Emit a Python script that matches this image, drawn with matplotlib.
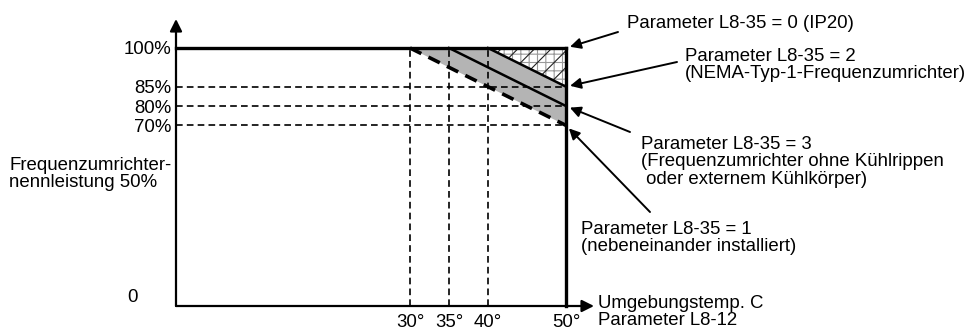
import numpy as np
import matplotlib
matplotlib.use("Agg")
import matplotlib.pyplot as plt

plt.rcParams['font.family'] = ['Liberation Sans', 'DejaVu Sans']
plt.rcParams['hatch.linewidth'] = 0.8

W, H = 971, 329
FS = 13.4

# Ambient temperature ticks (°C) and rated-output ticks (%)
temp_ticks = [30, 35, 40, 50]
temp_labels = ['30°', '35°', '40°', '50°']
pct_ticks = [70, 80, 85, 100]
pct_labels = ['70%', '80%', '85%', '100%']

# Derating curves: temperature (°C) -> rated output (%)
ip20_t, ip20_p = [0, 50], [100, 100]          # L8-35 = 0
nema_t, nema_p = [40, 50], [100, 85]          # L8-35 = 2
finless_t, finless_p = [35, 50], [100, 80]    # L8-35 = 3
side_t, side_p = [30, 50], [100, 70]          # L8-35 = 1


def px(x, y):
    """Figure pixel (from top-left) to figure fraction."""
    return (x / W, 1 - y / H)


fig = plt.figure(figsize=(W / 100, H / 100), dpi=100)
ax = fig.add_axes([176 / W, (H - 306) / H, 390 / W, 258 / H])

# slightly stretched percent axis in the upper range
k_in = [0, 70, 80, 85, 100, 300]
k_out = [0, 70, 77.5, 85, 100, 300]
ax.set_yscale('function',
              functions=(lambda v: np.interp(v, k_in, k_out),
                         lambda v: np.interp(v, k_out, k_in)))
ax.set_xlim(0, 50)
ax.set_ylim(0, 100)
for s in ax.spines.values():
    s.set_visible(False)

tmax = ip20_t[-1]

# grey band between the side-by-side and the NEMA curve
band_t = [side_t[0], nema_t[0], nema_t[1], side_t[1]]
band_p = [side_p[0], nema_p[0], nema_p[1], side_p[1]]
ax.fill(band_t, band_p, color='#b4b4b4', lw=0, zorder=1)

# hatched IP20 zone above the NEMA curve
tri_t = [nema_t[0], tmax, tmax]
tri_p = [100, 100, nema_p[1]]
ax.fill(tri_t, tri_p, facecolor='white', edgecolor='#9a9a9a', hatch='++',
        lw=0, zorder=1)
ax.fill(tri_t, tri_p, facecolor='none', edgecolor='#222222', hatch='//',
        lw=0, zorder=1)

# dashed reference lines
ax.hlines(pct_ticks[:-1], 0, tmax, colors='k', linestyles=(0, (4, 2.5)),
          lw=1.2, zorder=2, clip_on=False)
ax.vlines(temp_ticks[:-1], 0, 100, colors='k', linestyles=(0, (4, 2.5)),
          lw=1.2, zorder=2, clip_on=False)

# derating curves
ax.plot(nema_t, nema_p, color='k', lw=1.8, zorder=3, clip_on=False)
ax.plot(finless_t, finless_p, color='k', lw=1.8, zorder=3, clip_on=False)
ax.plot(side_t, side_p, color='k', lw=2.6, ls=(0, (3.5, 2.2)), zorder=3,
        clip_on=False)
ax.plot(ip20_t, ip20_p, color='k', lw=2.4, zorder=4, clip_on=False,
        solid_capstyle='projecting')
ax.plot([tmax, tmax], [0, 100], color='k', lw=2.4, zorder=4, clip_on=False,
        solid_capstyle='projecting')

# axes with arrow heads
arrow = dict(arrowstyle='-|>', color='k', lw=1.6, mutation_scale=18,
             shrinkA=0, shrinkB=0)
ax.annotate('', xy=px(176, 19), xycoords='figure fraction',
            xytext=(0, 0), textcoords='data', arrowprops=arrow)
ax.annotate('', xy=px(594, 306), xycoords='figure fraction',
            xytext=(0, 0), textcoords='data', arrowprops=arrow)

# tick labels
ax.set_xticks(temp_ticks, temp_labels)
ax.set_yticks(pct_ticks, pct_labels)
ax.yaxis.set_minor_locator(plt.NullLocator())
ax.tick_params(axis='both', length=0, labelsize=FS)
ax.tick_params(axis='x', pad=6)
ax.tick_params(axis='y', pad=3)
fig.text(*px(127, 298), '0', fontsize=FS, ha='left', va='center')

# y-axis caption
fig.text(*px(9, 174), 'Frequenzumrichter-\nnennleistung 50%', fontsize=FS,
         ha='left', va='center', linespacing=1.05)

# x-axis caption
fig.text(*px(598, 312), 'Umgebungstemp. C\nParameter L8-12', fontsize=FS,
         ha='left', va='center', linespacing=1.05)

# curve annotations
notes = [
    ((tmax, 100), px(618, 32), px(627, 23), 'Parameter L8-35 = 0 (IP20)'),
    ((tmax, nema_p[1]), px(677, 62), px(685, 65),
     'Parameter L8-35 = 2\n(NEMA-Typ-1-Frequenzumrichter)'),
    ((tmax, finless_p[1]), px(630, 132), px(641, 162),
     'Parameter L8-35 = 3\n(Frequenzumrichter ohne Kühlrippen\n'
     ' oder externem Kühlkörper)'),
    ((tmax, side_p[1]), px(650, 212), px(581, 238),
     'Parameter L8-35 = 1\n(nebeneinander installiert)'),
]
for tip, tail, tpos, label in notes:
    ax.annotate('', xy=tip, xycoords='data', xytext=tail,
                textcoords='figure fraction',
                arrowprops=dict(arrowstyle='-|>', color='k', lw=1.4,
                                mutation_scale=16, shrinkA=0, shrinkB=3))
    fig.text(*tpos, label, fontsize=FS, ha='left', va='center',
             linespacing=1.05)

fig.savefig('out.png', dpi=100)
